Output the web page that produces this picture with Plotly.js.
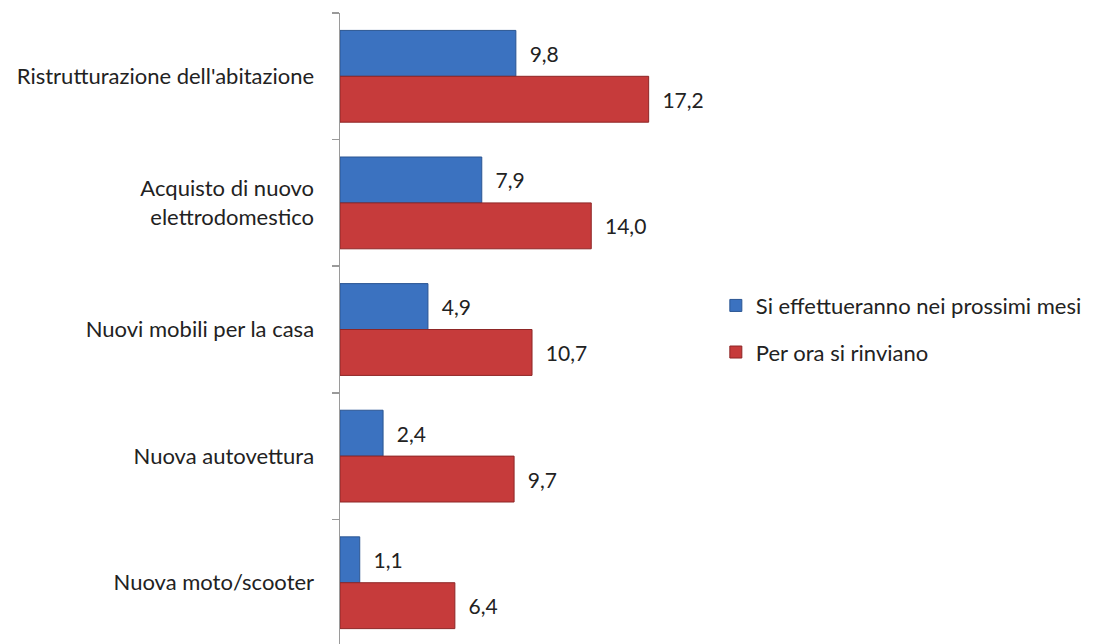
<!DOCTYPE html>
<html>
<head>
<meta charset="utf-8">
<script src="https://cdn.plot.ly/plotly-3.0.1.min.js"></script>
<style>html,body{margin:0;padding:0;background:#fff;}#chart{width:1095px;height:644px;}</style>
</head>
<body>
<div id="chart"></div>
<script>
const categories = [
  "Ristrutturazione dell'abitazione",
  "Acquisto di nuovo<br>elettrodomestico",
  "Nuovi mobili per la casa",
  "Nuova autovettura",
  "Nuova moto/scooter"
];
const seriesNames = ["Si effettueranno nei prossimi mesi", "Per ora si rinviano"];
const effettueranno = [9.8, 7.9, 4.9, 2.4, 1.1];
const rinviano = [17.2, 14.0, 10.7, 9.7, 6.4];

const fontFam = "Lato, 'Open Sans', sans-serif";
const labelText = '\u00a0\u00a0%{x:.1f}';

const traces = [
  {
    type: 'bar', orientation: 'h', name: seriesNames[0], legendgroup: 'a',
    y: categories, x: effettueranno,
    marker: {color: '#3b72c0', line: {color: '#2a5592', width: 1}},
    texttemplate: labelText, textposition: 'outside', cliponaxis: false,
    constraintext: 'none', textfont: {family: fontFam, size: 21, color: '#222'},
    hoverinfo: 'x'
  },
  {
    type: 'bar', orientation: 'h', name: seriesNames[1], legendgroup: 'b',
    y: categories, x: rinviano,
    marker: {color: '#c63b3b', line: {color: '#8e2626', width: 1}},
    texttemplate: labelText, textposition: 'outside', cliponaxis: false,
    constraintext: 'none', textfont: {family: fontFam, size: 21, color: '#222'},
    hoverinfo: 'x'
  }
];

const layout = {
  width: 1095, height: 644,
  margin: {l: 340, r: 395, t: 13, b: 0, autoexpand: false},
  paper_bgcolor: '#fff', plot_bgcolor: '#fff',
  separators: ',.',
  barmode: 'group', bargap: 0.275, bargroupgap: 0,
  font: {family: fontFam, size: 22, color: '#222'},
  showlegend: true,
  legend: {x: 1.044, xanchor: 'left', y: 0.499, yanchor: 'middle',
           font: {family: fontFam, size: 22, color: '#222'},
           tracegroupgap: 15, traceorder: 'grouped', bgcolor: 'rgba(0,0,0,0)'},
  xaxis: {range: [0, 20.06], visible: false, showgrid: false, zeroline: false, fixedrange: true},
  yaxis: {type: 'category', range: [4.484, -0.5], showline: true, linecolor: '#9a9a9a', linewidth: 1.5,
          ticks: 'outside', tickson: 'boundaries', ticklen: 7, tickcolor: '#9a9a9a', tickwidth: 1.5,
          showgrid: false, zeroline: false, ticklabelstandoff: 20,
          tickfont: {family: fontFam, size: 22, color: '#222'}, fixedrange: true}
};

Plotly.newPlot('chart', traces, layout, {displayModeBar: false, staticPlot: true});
</script>
</body>
</html>
